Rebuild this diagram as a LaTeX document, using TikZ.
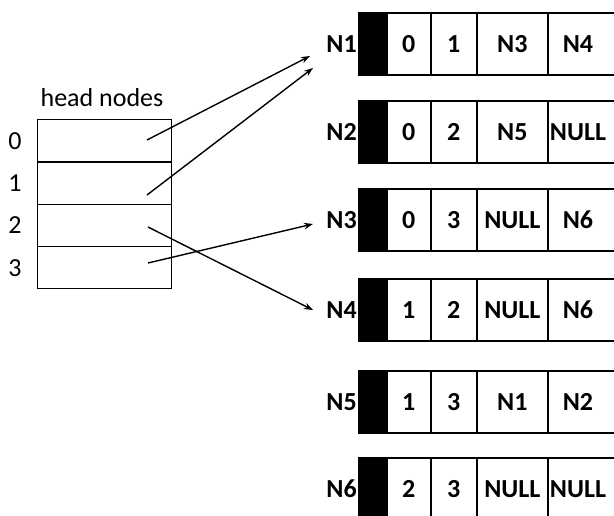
\documentclass[tikz,border=0pt]{standalone}
\usepackage{fontspec}
\setmainfont{Carlito}
\usetikzlibrary{arrows.meta}
\begin{document}
\begin{tikzpicture}[x=1pt,y=-1pt,
  txt/.style={font=\fontsize{26}{31}\selectfont},
  btxt/.style={font=\fontsize{26}{31}\selectfont\bfseries},
  cellbox/.style={draw=black, line width=1.6pt, fill=white, anchor=north west,
    inner sep=0pt, minimum height=62pt, btxt},
  tag/.style={draw=black, line width=1.6pt, fill=black, anchor=north west,
    inner sep=0pt, minimum width=28pt, minimum height=62pt},
  slot/.style={draw=black, line width=1.4pt, anchor=north west, inner sep=0pt,
    minimum width=134pt, minimum height=42.25pt},
  ptr/.style={line width=1.4pt, -{Stealth[length=9pt,width=6.5pt]}}]
\useasboundingbox (0,0) rectangle (614,515);
\fill[white] (0,0) rectangle (614,515);
\clip (0,0) rectangle (614,515);

% head node table
\node[txt] (title) at (102,98) {head nodes};
\foreach \i/\y in {0/119,1/161.25,2/203.5,3/245.75}{
  \node[slot] (hn\i) at (37,\y) {};
  \node[txt] (ix\i) at (15,\y+22) {\i};
}

% node records: label, tag, two indices, two links
\foreach \k/\y/\a/\b/\c/\d in {1/12/0/1/N3/N4, 2/100/0/2/N5/NULL, 3/188/0/3/NULL/N6,
                               4/278/1/2/NULL/N6, 5/370/1/3/N1/N2, 6/457/2/3/NULL/NULL}{
  \node[tag] (t\k) at (358,\y) {};
  \node[btxt, anchor=east, inner sep=1pt] (n\k) at (t\k.west) {N\k};
  \node[cellbox, minimum width=44pt] (a\k) at (386,\y) {\a};
  \node[cellbox, minimum width=46pt] (b\k) at (430,\y) {\b};
  \node[cellbox, minimum width=71pt] (c\k) at (476,\y) {\c};
  \node[cellbox, minimum width=100pt] (d\k) at (547,\y) {};
  \node[btxt, inner sep=0pt] (e\k) at (578,\y+32) {\d};
}

% pointers from the head table to the records
\coordinate (s0) at (147,140);
\coordinate (s1) at (147,195);
\coordinate (s2) at (148,227);
\coordinate (s3) at (148,263);
\coordinate (p0) at (310,56);
\coordinate (p1) at (313,68);
\coordinate (p2) at (313,310);
\coordinate (p3) at (313,224);
\draw[ptr] (s0) -- (p0);
\draw[ptr] (s1) -- (p1);
\draw[ptr] (s2) -- (p2);
\draw[ptr] (s3) -- (p3);
\end{tikzpicture}
\end{document}
